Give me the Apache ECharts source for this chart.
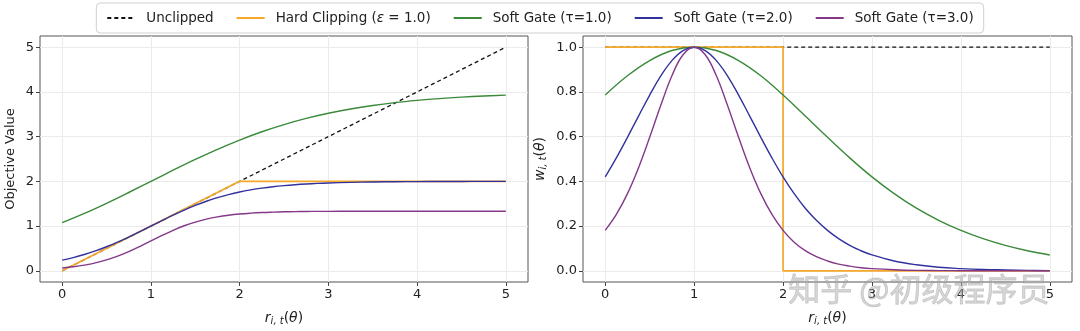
<!DOCTYPE html>
<html>
<head>
<meta charset="utf-8">
<script src="https://cdn.jsdelivr.net/npm/echarts@6/dist/echarts.min.js"></script>
<style>
  html, body { margin: 0; padding: 0; background: #fff; }
  #chart { width: 1080px; height: 331px; }
</style>
</head>
<body>
<div id="chart"></div>
<script>
// ---------- data ----------
// coarse r grid (for the gentle τ=1.0 curves)
const rCoarse = [0, 0.25, 0.5, 0.75, 1, 1.25, 1.5, 1.75, 2, 2.25, 2.5, 2.75, 3, 3.25, 3.5, 3.75, 4, 4.25, 4.5, 4.75, 5];
// finer r grid (for the sharper τ=2.0 / τ=3.0 curves)
const rFine = [0, 0.125, 0.25, 0.375, 0.5, 0.625, 0.75, 0.875, 1, 1.125, 1.25, 1.375, 1.5, 1.625, 1.75, 1.875, 2, 2.125, 2.25, 2.375, 2.5, 2.625, 2.75, 2.875, 3, 3.25, 3.5, 3.75, 4, 4.25, 4.5, 4.75, 5];

// Objective values (left panel)
const unclippedObjX = [0, 5];
const unclippedObjY = [0, 5];
const hardObjX = [0, 2, 5];
const hardObjY = [0, 2, 2];
const soft1Obj = [1.076, 1.283, 1.510, 1.751, 2.000, 2.249, 2.490, 2.717, 2.924, 3.109, 3.270, 3.408, 3.523, 3.619, 3.697, 3.760, 3.810, 3.851, 3.883, 3.908, 3.928];
const soft2Obj = [0.238, 0.296, 0.365, 0.445, 0.538, 0.642, 0.755, 0.876, 1.000, 1.124, 1.245, 1.358, 1.462, 1.555, 1.635, 1.704, 1.762, 1.809, 1.848, 1.880, 1.905, 1.925, 1.941, 1.954, 1.964, 1.978, 1.987, 1.992, 1.995, 1.997, 1.998, 1.999, 1.999];
const soft3Obj = [0.063, 0.090, 0.127, 0.177, 0.243, 0.327, 0.428, 0.543, 0.667, 0.790, 0.906, 1.007, 1.090, 1.156, 1.206, 1.243, 1.270, 1.289, 1.303, 1.312, 1.319, 1.323, 1.327, 1.329, 1.330, 1.332, 1.333, 1.333, 1.333, 1.333, 1.333, 1.333, 1.333];

// Weights (right panel)
const unclippedWX = [0, 5];
const unclippedWY = [1, 1];
const hardWX = [0, 2, 2, 5];
const hardWY = [1, 1, 0, 0];
const soft1W = [0.786, 0.872, 0.940, 0.985, 1.000, 0.985, 0.940, 0.872, 0.786, 0.692, 0.597, 0.505, 0.420, 0.345, 0.280, 0.226, 0.181, 0.144, 0.114, 0.090, 0.071];
const soft2W = [0.420, 0.505, 0.597, 0.692, 0.786, 0.872, 0.940, 0.985, 1.000, 0.985, 0.940, 0.872, 0.786, 0.692, 0.597, 0.505, 0.420, 0.345, 0.280, 0.226, 0.181, 0.144, 0.114, 0.090, 0.071, 0.044, 0.027, 0.016, 0.010, 0.006, 0.004, 0.002, 0.001];
const soft3W = [0.181, 0.252, 0.345, 0.461, 0.597, 0.740, 0.872, 0.966, 1.000, 0.966, 0.872, 0.740, 0.597, 0.461, 0.345, 0.252, 0.181, 0.128, 0.090, 0.063, 0.044, 0.030, 0.021, 0.014, 0.010, 0.005, 0.002, 0.001, 0.0005, 0.0002, 0.0001, 0.0001, 0.0];

const xTicks = [0, 1, 2, 3, 4, 5];
const yTicksLeft = [0, 1, 2, 3, 4, 5];
const yTicksRight = [0, 0.2, 0.4, 0.6, 0.8, 1.0];

const seriesNames = ['Unclipped', 'Hard Clipping (ε = 1.0)', 'Soft Gate (τ=1.0)', 'Soft Gate (τ=2.0)', 'Soft Gate (τ=3.0)'];
const colors = ['#111111', '#f5a82a', '#3a8a3a', '#32329e', '#84388a'];
const widths = [1.3, 1.7, 1.4, 1.4, 1.4];

// ---------- helpers ----------
const zip = (xs, ys) => xs.map((x, i) => [x, ys[i]]);
const FONT = 'DejaVu Sans';

function lineSeries(idx, data, axisIdx, extra) {
  return Object.assign({
    name: seriesNames[idx],
    type: 'line',
    xAxisIndex: axisIdx,
    yAxisIndex: axisIdx,
    data: data,
    symbol: 'none',
    smooth: false,
    lineStyle: { color: colors[idx], width: widths[idx], type: idx === 0 ? [4, 3] : 'solid' },
    itemStyle: { color: colors[idx] },
    z: 2 + idx,
    animation: false
  }, extra || {});
}

const axisNameRich = {
  it: { fontFamily: FONT, fontStyle: 'italic', fontSize: 14, color: '#222' },
  sub: { fontFamily: FONT, fontStyle: 'italic', fontSize: 10, color: '#222', verticalAlign: 'bottom', padding: [6, 0, 0, 0] },
  n: { fontFamily: FONT, fontSize: 14, color: '#222' }
};

function xAxisCfg(gridIndex) {
  return {
    type: 'value', gridIndex: gridIndex, min: -0.25, max: 5.25,
    name: '{it|r}{sub|i, t}{n|(}{it|θ}{n|)}',
    nameLocation: 'middle', nameGap: 28,
    nameTextStyle: { rich: axisNameRich },
    axisLine: { show: false, onZero: false },
    axisTick: { show: true, customValues: xTicks, length: 4, lineStyle: { color: '#444' } },
    axisLabel: { customValues: xTicks, fontFamily: FONT, fontSize: 13, color: '#222', margin: 6 },
    splitLine: { show: true, lineStyle: { color: '#ebebeb', width: 1 } }
  };
}

function yAxisCfg(gridIndex, min, max, ticks, name, nameGap, fmt) {
  return {
    type: 'value', gridIndex: gridIndex, min: min, max: max,
    name: name, nameLocation: 'middle', nameGap: nameGap, nameRotate: 90,
    nameTextStyle: { fontFamily: FONT, fontSize: 13, color: '#222', rich: axisNameRich },
    axisLine: { show: false, onZero: false },
    axisTick: { show: true, customValues: ticks, length: 4, lineStyle: { color: '#444' } },
    axisLabel: { customValues: ticks, fontFamily: FONT, fontSize: 13, color: '#222', margin: 6, formatter: fmt },
    splitLine: { show: true, lineStyle: { color: '#ebebeb', width: 1 } }
  };
}

const chart = echarts.init(document.getElementById('chart'), null, { renderer: 'canvas' });

chart.setOption({
  backgroundColor: '#ffffff',
  animation: false,
  legend: {
    data: seriesNames,
    top: 3,
    left: 'center',
    itemWidth: 28,
    itemHeight: 10,
    itemGap: 22,
    padding: [8, 10, 8, 10],
    borderColor: '#d0d0d0',
    borderWidth: 1,
    borderRadius: 4,
    itemStyle: { opacity: 0 },
    textStyle: {
      fontFamily: FONT, fontSize: 13.5, color: '#222', padding: [0, 0, 0, 6],
      rich: { e: { fontFamily: FONT, fontStyle: 'italic', fontSize: 13.5, color: '#222' } }
    },
    formatter: function (name) {
      if (name.indexOf('ε') >= 0) return 'Hard Clipping ({e|ε} = 1.0)';
      return name;
    }
  },
  grid: [
    { left: 40, top: 36, width: 488, height: 254, show: true, borderColor: '#555', borderWidth: 1, backgroundColor: 'transparent' },
    { left: 583, top: 36, width: 489, height: 254, show: true, borderColor: '#555', borderWidth: 1, backgroundColor: 'transparent' }
  ],
  xAxis: [xAxisCfg(0), xAxisCfg(1)],
  yAxis: [
    yAxisCfg(0, -0.25, 5.25, yTicksLeft, 'Objective Value', 23, v => String(v)),
    yAxisCfg(1, -0.05, 1.05, yTicksRight, '{it|w}{sub|i, t}{n|(}{it|θ}{n|)}', 35, v => v.toFixed(1))
  ],
  graphic: [{
    type: 'text',
    right: 30, bottom: 26,
    silent: true,
    style: { text: '知乎 @初级程序员', font: '32px "Noto Sans CJK SC"', fill: 'rgba(175,175,175,0.5)', stroke: 'rgba(120,120,120,0.35)', lineWidth: 0.8 },
    z: 100
  }],
  series: [
    lineSeries(0, zip(unclippedObjX, unclippedObjY), 0),
    lineSeries(1, zip(hardObjX, hardObjY), 0),
    lineSeries(2, zip(rCoarse, soft1Obj), 0, { smooth: 0.4 }),
    lineSeries(3, zip(rFine, soft2Obj), 0, { smooth: 0.4 }),
    lineSeries(4, zip(rFine, soft3Obj), 0, { smooth: 0.4 }),
    lineSeries(0, zip(unclippedWX, unclippedWY), 1),
    lineSeries(1, zip(hardWX, hardWY), 1),
    lineSeries(2, zip(rCoarse, soft1W), 1, { smooth: 0.4 }),
    lineSeries(3, zip(rFine, soft2W), 1, { smooth: 0.4 }),
    lineSeries(4, zip(rFine, soft3W), 1, { smooth: 0.4 })
  ]
});
</script>
</body>
</html>
